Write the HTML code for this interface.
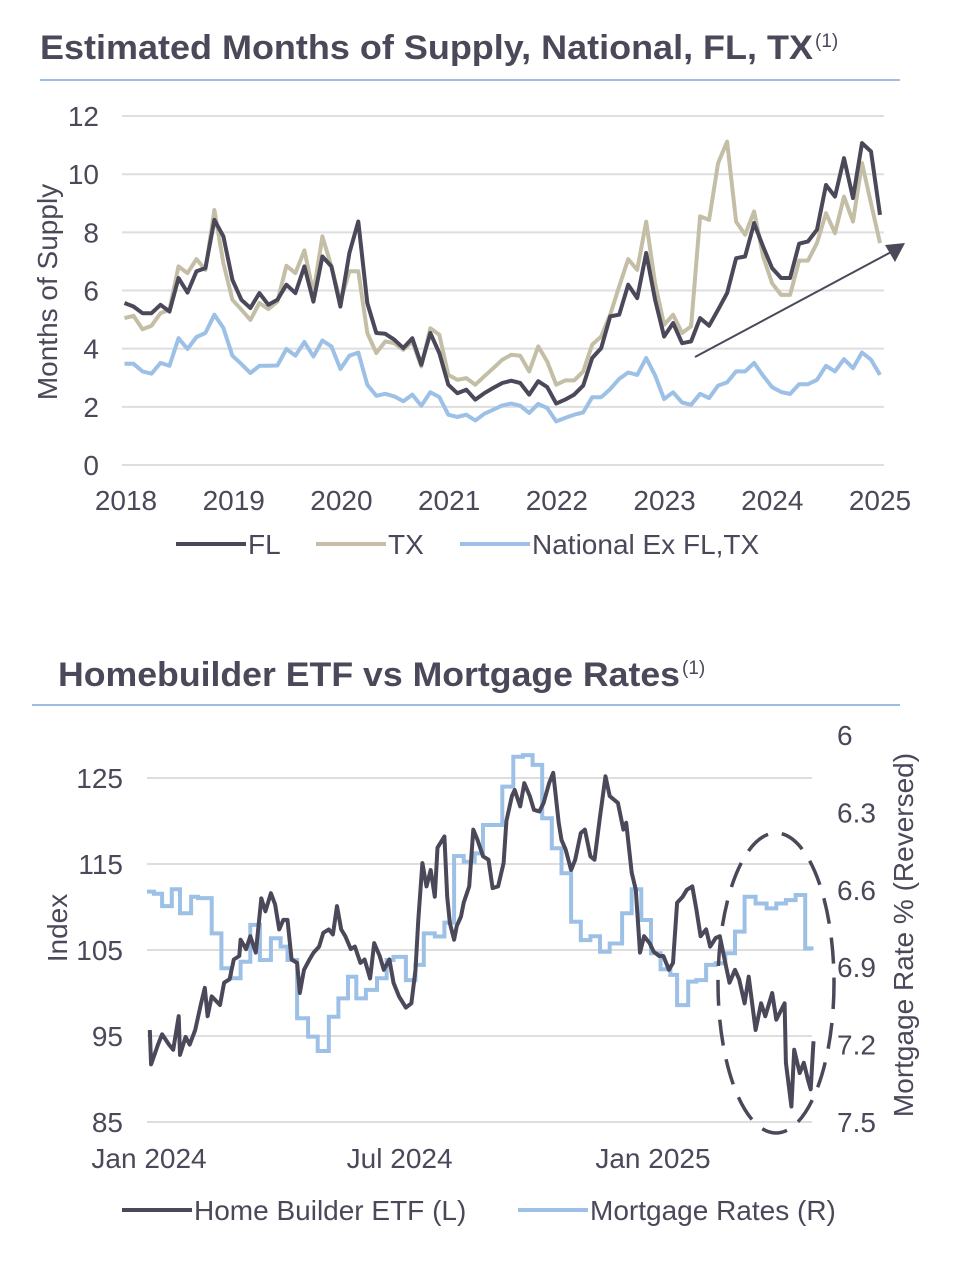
<!DOCTYPE html>
<html><head><meta charset="utf-8"><style>
html,body{margin:0;padding:0;background:#fff;}
svg{display:block;font-family:"Liberation Sans",Arial,sans-serif;}
</style></head><body>
<svg id="s" width="972" height="1276" viewBox="0 0 972 1276" xmlns="http://www.w3.org/2000/svg">
<text x="40" y="59" font-size="34" font-weight="bold" fill="#4a4859" textLength="773" lengthAdjust="spacingAndGlyphs">Estimated Months of Supply, National, FL, TX</text>
<text x="815" y="47" font-size="19" fill="#4a4859">(1)</text>
<line x1="40" y1="80" x2="900" y2="80" stroke="#9dbde3" stroke-width="2"/>
<text x="58" y="686" font-size="34" font-weight="bold" fill="#4a4859" textLength="622" lengthAdjust="spacingAndGlyphs">Homebuilder ETF vs Mortgage Rates</text>
<text x="682" y="674" font-size="19" fill="#4a4859">(1)</text>
<line x1="32" y1="705" x2="900" y2="705" stroke="#9dbde3" stroke-width="2"/>
<g id="c1"></g>
<g id="c2"></g>
</svg>
<script>
const fl=[5.57,5.45,5.22,5.22,5.51,5.28,6.43,5.93,6.66,6.77,8.43,7.86,6.37,5.68,5.40,5.91,5.51,5.68,6.20,5.91,6.83,5.62,7.17,6.83,5.45,7.29,8.37,5.57,4.54,4.51,4.31,4.02,4.36,3.45,4.54,3.85,2.76,2.47,2.59,2.25,2.47,2.65,2.82,2.90,2.82,2.42,2.88,2.68,2.11,2.25,2.42,2.73,3.68,4.02,5.11,5.17,6.20,5.74,7.29,5.68,4.42,4.88,4.19,4.25,5.05,4.79,5.34,5.91,7.11,7.17,8.32,7.51,6.77,6.43,6.43,7.61,7.69,8.09,9.63,9.23,10.55,9.18,11.07,10.78,8.60];
const tx=[5.05,5.13,4.67,4.79,5.22,5.34,6.83,6.60,7.08,6.71,8.77,6.94,5.68,5.34,4.99,5.57,5.36,5.62,6.85,6.60,7.38,5.91,7.86,6.83,5.62,6.66,6.66,4.54,3.85,4.25,4.19,3.96,4.25,3.39,4.70,4.48,3.10,2.93,2.99,2.76,3.05,3.33,3.62,3.79,3.76,3.22,4.08,3.56,2.76,2.91,2.91,3.22,4.14,4.42,5.17,6.14,7.08,6.71,8.37,6.25,4.82,5.17,4.54,4.77,8.55,8.43,10.38,11.12,8.37,7.92,8.72,7.17,6.25,5.85,5.85,7.03,7.03,7.63,8.66,7.97,9.23,8.37,10.38,9.00,7.63];
const nat=[3.48,3.48,3.22,3.14,3.51,3.41,4.36,3.99,4.40,4.54,5.17,4.71,3.76,3.47,3.16,3.41,3.41,3.42,3.99,3.76,4.23,3.73,4.28,4.08,3.30,3.76,3.87,2.76,2.38,2.45,2.36,2.19,2.42,2.04,2.50,2.34,1.73,1.65,1.73,1.53,1.76,1.90,2.05,2.11,2.04,1.79,2.10,1.96,1.50,1.62,1.73,1.81,2.33,2.33,2.61,2.96,3.18,3.10,3.68,3.08,2.27,2.50,2.15,2.07,2.45,2.30,2.73,2.84,3.22,3.22,3.51,3.07,2.68,2.51,2.44,2.78,2.78,2.93,3.41,3.22,3.64,3.33,3.87,3.62,3.10];
const yTicks1=[0,2,4,6,8,10,12];
const years1=['2018','2019','2020','2021','2022','2023','2024','2025'];
const etfDay=[2,3,8,11,16,19,23,24,28,31,35,39,42,44,47,53,56,60,63,67,68,72,75,79,83,86,90,93,96,99,102,105,109,111,114,118,121,125,128,132,135,138,141,144,148,151,155,158,162,165,169,172,176,179,183,188,192,195,197,200,203,206,209,211,216,218,220,223,225,228,230,234,237,240,244,248,251,255,259,261,265,267,271,274,278,281,285,288,292,295,299,301,304,308,311,315,318,322,325,329,333,336,339,342,346,348,352,355,358,361,365,368,372,375,379,382,385,389,392,396,399,402,406,409,413,416,420,423,427,430,434,437,442,446,449,454,457,463,464,468,470,474,477,480,482,484];
const etfVal=[95.7,91.7,94.0,95.2,94.0,93.4,97.3,92.8,94.9,94.0,95.7,98.6,100.6,97.3,99.6,98.6,101.2,101.6,103.9,104.3,106.2,105.1,106.6,104.7,111.0,109.5,111.6,110.3,107.4,108.5,108.5,103.9,103.5,100.0,102.7,103.9,104.7,105.4,107.0,107.4,106.8,110.1,107.4,106.6,105.1,105.4,103.5,103.9,101.7,105.8,104.3,102.7,103.9,101.2,99.6,98.3,98.8,102.7,108.5,115.1,112.4,114.3,111.2,116.9,118.2,111.2,108.1,106.2,107.8,108.9,110.5,112.4,119.0,117.8,115.9,115.5,112.2,112.4,115.1,120.0,122.9,123.6,121.7,124.4,122.9,121.3,121.1,122.1,124.4,125.6,119.8,117.8,116.7,114.3,115.5,118.6,119.0,115.9,115.5,120.5,125.2,122.9,122.5,122.1,119.0,119.8,114.0,112.0,104.7,106.6,105.8,104.8,104.3,104.3,102.7,103.5,110.5,111.2,112.0,112.4,109.7,106.6,107.4,105.4,106.4,106.6,103.5,101.2,102.7,101.6,98.8,101.9,95.7,98.8,97.3,100.0,96.9,98.8,91.9,86.8,93.4,90.7,91.9,89.9,88.8,94.4];
const rateDay=[0,5,11,18,24,32,37,47,54,61,68,75,82,90,97,102,109,117,124,132,139,146,152,159,167,174,179,188,195,201,209,216,223,230,238,244,258,266,273,280,287,294,301,308,315,322,329,336,345,352,359,366,373,380,385,393,399,406,413,420,427,434,442,450,457,464,471,478];
const rateVal=[6.607,6.615,6.663,6.598,6.691,6.627,6.632,6.769,6.904,6.943,6.879,6.736,6.872,6.788,6.820,6.872,7.098,7.169,7.225,7.092,7.021,6.937,7.021,6.988,6.943,6.872,6.860,6.950,6.891,6.769,6.781,6.727,6.469,6.491,6.459,6.349,6.200,6.084,6.078,6.116,6.323,6.439,6.536,6.724,6.795,6.780,6.840,6.808,6.691,6.598,6.717,6.846,6.908,6.930,7.047,6.956,6.950,6.891,6.885,6.846,6.762,6.627,6.653,6.672,6.653,6.640,6.620,6.827];
const leftTicks2=[85,95,105,115,125];
const rightTicks2=[6,6.3,6.6,6.9,7.2,7.5];
const dateLabels=['Jan 2024','Jul 2024','Jan 2025'];
const dateDays=[0,182,366];

const NS='http://www.w3.org/2000/svg';
function mk(p,t,a,txt){const e=document.createElementNS(NS,t);for(const k in a)e.setAttribute(k,a[k]);if(txt!=null)e.textContent=txt;p.appendChild(e);return e;}
const DARK='#4a4859',TAN='#c4bea6',BLUE='#9cc0e6',TXT='#4a4859',GRID='#dedede';
const FS=28;

// Chart 1
const c1=document.getElementById('c1');
const y1=v=>465-v*29.08;
const x1=i=>124.5+i*(880-124.5)/(fl.length-1);
const yr=i=>126+i*(880-126)/7;
yTicks1.forEach(t=>{
 const g=mk(c1,'line',{x1:122,x2:884,y1:y1(t),y2:y1(t),stroke:GRID,'stroke-width':2});
 
 
 const l=mk(c1,'text',{x:99,y:y1(t)+10,'font-size':FS,fill:TXT,'text-anchor':'end'},String(t));
 
 
});
years1.forEach((s,i)=>{
 const l=mk(c1,'text',{x:yr(i),y:510,'font-size':FS,fill:TXT,'text-anchor':'middle'},s);
 
 
});
const yt=mk(c1,'text',{x:0,y:0,'font-size':FS,fill:TXT,'text-anchor':'middle',transform:'translate(57,292) rotate(-90)'},'Months of Supply');


[[nat,BLUE,'national-line'],[tx,TAN,'tx-line'],[fl,DARK,'fl-line']].forEach(([d,c,n])=>{
 const p=mk(c1,'polyline',{points:d.map((v,i)=>x1(i).toFixed(1)+','+y1(v).toFixed(1)).join(' '),fill:'none',stroke:c,'stroke-width':4,'stroke-linejoin':'round'});
 
 
});
const ar=mk(c1,'line',{x1:695,y1:357,x2:893,y2:251,stroke:DARK,'stroke-width':2});


const ah=mk(c1,'polygon',{points:'905,243 885,245 895,262',fill:DARK});


[[176,'FL',DARK],[316,'TX',TAN],[460,'National Ex FL,TX',BLUE]].forEach(([x,s,c])=>{
 const g=mk(c1,'g',{});
 
 
 mk(g,'line',{x1:x,x2:x+70,y1:544,y2:544,stroke:c,'stroke-width':4});
 mk(g,'text',{x:x+72,y:554,'font-size':FS,fill:TXT},s);
});

// Chart 2
const c2=document.getElementById('c2');
const yl=v=>1122-(v-85)*8.6;
const yrR=v=>735+(v-6)*258;
const x2=d=>147+d*1.377;
leftTicks2.forEach(t=>{
 const g=mk(c2,'line',{x1:147,x2:812,y1:yl(t),y2:yl(t),stroke:GRID,'stroke-width':2});
 
 
 const l=mk(c2,'text',{x:123,y:yl(t)+10,'font-size':FS,fill:TXT,'text-anchor':'end'},String(t));
 
 
});
rightTicks2.forEach(t=>{
 const l=mk(c2,'text',{x:837,y:yrR(t)+10,'font-size':FS,fill:TXT},t.toFixed(t===6?0:1));
 
 
});
dateLabels.forEach((s,i)=>{
 const l=mk(c2,'text',{x:x2(dateDays[i])+2,y:1168,'font-size':FS,fill:TXT,'text-anchor':'middle'},s);
 
 
});
const lt=mk(c2,'text',{x:0,y:0,'font-size':FS,fill:TXT,'text-anchor':'middle',transform:'translate(67,928) rotate(-90)'},'Index');


const rt=mk(c2,'text',{x:0,y:0,'font-size':FS,fill:TXT,'text-anchor':'middle',transform:'translate(913,935) rotate(-90)'},'Mortgage Rate % (Reversed)');


let pts=[];
rateDay.forEach((d,i)=>{
 const yy=yrR(rateVal[i]).toFixed(1);
 const xe=x2(i<rateDay.length-1?rateDay[i+1]:484).toFixed(1);
 pts.push(x2(d).toFixed(1)+','+yy, xe+','+yy);
});
const rp=mk(c2,'polyline',{points:pts.join(' '),fill:'none',stroke:BLUE,'stroke-width':4});


const ep=mk(c2,'polyline',{points:etfDay.map((d,i)=>x2(d).toFixed(1)+','+yl(etfVal[i]).toFixed(1)).join(' '),fill:'none',stroke:DARK,'stroke-width':4,'stroke-linejoin':'round'});


const el=mk(c2,'ellipse',{cx:776,cy:983,rx:58,ry:150,fill:'none',stroke:DARK,'stroke-width':3.5,'stroke-dasharray':'26 14'});


[[122,'Home Builder ETF (L)',DARK],[518,'Mortgage Rates (R)',BLUE]].forEach(([x,s,c])=>{
 const g=mk(c2,'g',{});
 
 
 mk(g,'line',{x1:x,x2:x+70,y1:1210,y2:1210,stroke:c,'stroke-width':4});
 mk(g,'text',{x:x+72,y:1220,'font-size':FS,fill:TXT},s);
});
</script>
</body></html>
